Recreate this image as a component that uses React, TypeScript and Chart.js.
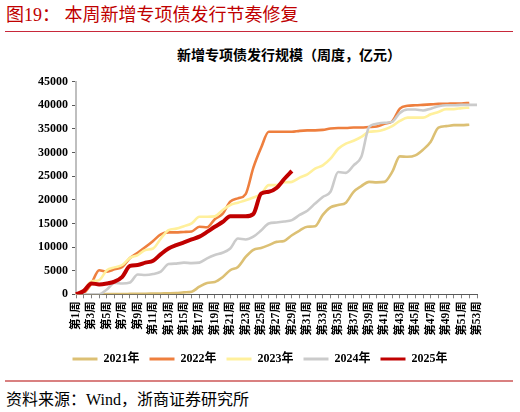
import React, { useEffect, useRef } from "react";
import { Chart, registerables } from "chart.js";

Chart.register(...registerables);

const weeks: string[] = [
  "第1周", "第2周", "第3周", "第4周", "第5周", "第6周", "第7周", "第8周", "第9周", "第10周",
  "第11周", "第12周", "第13周", "第14周", "第15周", "第16周", "第17周", "第18周", "第19周", "第20周",
  "第21周", "第22周", "第23周", "第24周", "第25周", "第26周", "第27周", "第28周", "第29周", "第30周",
  "第31周", "第32周", "第33周", "第34周", "第35周", "第36周", "第37周", "第38周", "第39周", "第40周",
  "第41周", "第42周", "第43周", "第44周", "第45周", "第46周", "第47周", "第48周", "第49周", "第50周",
  "第51周", "第52周", "第53周",
];

const y2021: (number | null)[] = [
  0, 0, 0, 0, 30, 50, 60, 80, 100, 120,
  150, 180, 200, 250, 400, 550, 1600, 2400, 2600, 3600,
  5100, 5800, 7900, 9400, 9800, 10400, 11100, 11300, 12500, 13500,
  14300, 14400, 16800, 18400, 18900, 19400, 21700, 22900, 23800, 23700,
  23800, 25900, 29200, 29100, 29400, 30600, 32300, 35300, 35600, 35800,
  35800, 35900,
];

const y2022: (number | null)[] = [
  0, 300, 2300, 5100, 4800, 5300, 5800, 7700, 8800, 10000,
  11300, 12700, 13100, 13100, 13200, 13300, 14300, 14200, 15900, 17000,
  19600, 20300, 21200, 26800, 31000, 34400, 34400, 34400, 34400, 34600,
  34700, 34700, 34800, 35100, 35200, 35200, 35300, 35300, 35400, 35500,
  36100, 36600, 39300, 39900, 40000, 40100, 40200, 40300, 40300, 40400,
  40400, 40500,
];

const y2023: (number | null)[] = [
  0, 900, 2700, 3000, 5100, 5700, 6200, 7700, 8300, 9400,
  9700, 11800, 13600, 13900, 14400, 15000, 16400, 16400, 16500, 17800,
  18900, 19400, 19900, 20500, 21200, 23100, 23100, 23700, 23800, 24700,
  25400, 26600, 27300, 28700, 30800, 31900, 32500, 33300, 34400, 34500,
  34900, 35600, 36700, 37400, 37400, 37400, 38100, 38600, 39200, 39200,
  39400, 39500,
];

const y2024: (number | null)[] = [
  0, 0, 0, 0, 1000, 2400, 2300, 2500, 4200, 4100,
  4300, 4800, 6400, 6500, 6700, 6600, 6700, 7600, 8300, 8800,
  9700, 11800, 11600, 12200, 13500, 15000, 15200, 15400, 15700, 16800,
  17700, 19200, 20600, 21700, 25900, 25700, 27300, 29100, 35400, 36100,
  36300, 36500, 38400, 39100, 39100, 38900, 39300, 39800, 40000, 40000,
  40100, 40100, 40100,
];

const y2025: (number | null)[] = [
  0, 700, 2300, 2100, 2300, 2700, 3700, 6000, 6200, 6700,
  7100, 8500, 9700, 10400, 11000, 11600, 12200, 13200, 14300, 15300,
  16500, 16500, 16500, 17000, 21300, 21700, 22500, 24400, 26100,
];

const seriesNames: string[] = ["2021年", "2022年", "2023年", "2024年", "2025年"];
const seriesColors: string[] = ["#DCC074", "#EE7F3E", "#FFF09C", "#CBCBCB", "#C00000"];
const seriesWidths: number[] = [2.6, 2.6, 2.6, 2.6, 4];

const yTicks: number[] = [0, 5000, 10000, 15000, 20000, 25000, 30000, 35000, 40000, 45000];

const FONT = '"Liberation Serif", "Noto Sans CJK SC", serif';

export default function App() {
  const canvasRef = useRef<HTMLCanvasElement | null>(null);

  useEffect(() => {
    const canvas = canvasRef.current;
    if (!canvas) return;
    const all = [y2021, y2022, y2023, y2024, y2025];
    const datasets = all
      .map((d, i) => ({
        label: seriesNames[i],
        data: d,
        borderColor: seriesColors[i],
        backgroundColor: seriesColors[i],
        borderWidth: seriesWidths[i],
        pointRadius: 0,
        pointHoverRadius: 0,
        cubicInterpolationMode: "monotone" as const,
        fill: false,
        spanGaps: false,
        yAxisID: "y",
      }))
      .reverse();

    const chart = new Chart(canvas, {
      type: "line",
      data: { labels: weeks, datasets },
      options: {
        animation: false,
        responsive: false,
        devicePixelRatio: 1,
        layout: { padding: { top: 17.7, right: 0, left: 0, bottom: 0 } },
        plugins: {
          tooltip: { enabled: false },
          title: { display: false },
          legend: {
            position: "bottom",
            reverse: true,
            labels: {
              boxWidth: 25,
              boxHeight: 3,
              padding: 10,
              color: "#000",
              font: { family: FONT, size: 12, weight: "bold" },
              generateLabels: (c: any) =>
                Chart.defaults.plugins.legend.labels
                  .generateLabels(c)
                  .map((it: any) => ({ ...it, lineWidth: 0 })),
            },
          },
        },
        scales: {
          x: {
            type: "category",
            offset: false,
            afterFit: (s: any) => {
              s.height = 48.7;
            },
            border: { display: true, color: "#595959", width: 1 },
            grid: {
              display: true,
              drawOnChartArea: false,
              drawTicks: true,
              tickLength: 4,
              tickColor: "#7F7F7F",
              offset: false,
            },
            ticks: {
              autoSkip: false,
              maxRotation: 90,
              minRotation: 90,
              padding: 3,
              color: "#000",
              font: { family: FONT, size: 11.5, weight: "bold" },
              callback: (_v: any, idx: number) => (idx % 2 === 0 ? weeks[idx] : ""),
            },
          },
          y: {
            min: 0,
            max: 45000,
            afterFit: (s: any) => {
              s.width = 76;
            },
            afterBuildTicks: (s: any) => {
              s.ticks = yTicks.map((v) => ({ value: v }));
            },
            border: { display: true, color: "#BFBFBF", width: 2 },
            grid: {
              display: true,
              drawOnChartArea: false,
              drawTicks: true,
              tickLength: 4,
              tickColor: "#595959",
            },
            ticks: {
              padding: 4,
              color: "#000",
              font: { family: FONT, size: 12, weight: "bold" },
              callback: (v: any) => String(v),
            },
          },
          yRight: {
            position: "right",
            min: 0,
            max: 45000,
            display: true,
            afterFit: (s: any) => {
              s.width = 43;
            },
            border: { display: false },
            grid: { display: false, drawTicks: false },
            ticks: { display: false },
          },
        },
      },
    });
    return () => chart.destroy();
  }, []);

  return (
    <div
      style={{
        position: "absolute",
        left: 0,
        top: 0,
        width: 520,
        height: 412,
        background: "#fff",
        overflow: "hidden",
        fontFamily: FONT,
      }}
    >
      <div
        style={{
          position: "absolute",
          left: 6,
          top: 6,
          fontSize: 18,
          lineHeight: "18px",
          color: "#C00000",
          whiteSpace: "nowrap",
        }}
      >
        图19： 本周新增专项债发行节奏修复
      </div>
      <div
        style={{
          position: "absolute",
          left: 5,
          top: 30.5,
          width: 508,
          height: 1,
          background: "#C8283A",
        }}
      />
      <div
        style={{
          position: "absolute",
          left: 0,
          width: 578,
          top: 48.5,
          fontSize: 14,
          lineHeight: "14px",
          fontWeight: "bold",
          textAlign: "center",
          color: "#000",
          whiteSpace: "nowrap",
        }}
      >
        新增专项债发行规模（周度，亿元）
      </div>
      <canvas
        ref={canvasRef}
        width={520}
        height={311}
        style={{ position: "absolute", left: 0, top: 64, width: 520, height: 311 }}
      />
      <div
        style={{
          position: "absolute",
          left: 5,
          top: 380,
          width: 508,
          height: 2,
          background: "#D98080",
        }}
      />
      <div
        style={{
          position: "absolute",
          left: 6,
          top: 391.5,
          fontSize: 16,
          lineHeight: "16px",
          color: "#000",
          whiteSpace: "nowrap",
        }}
      >
        资料来源：Wind，浙商证券研究所
      </div>
    </div>
  );
}
